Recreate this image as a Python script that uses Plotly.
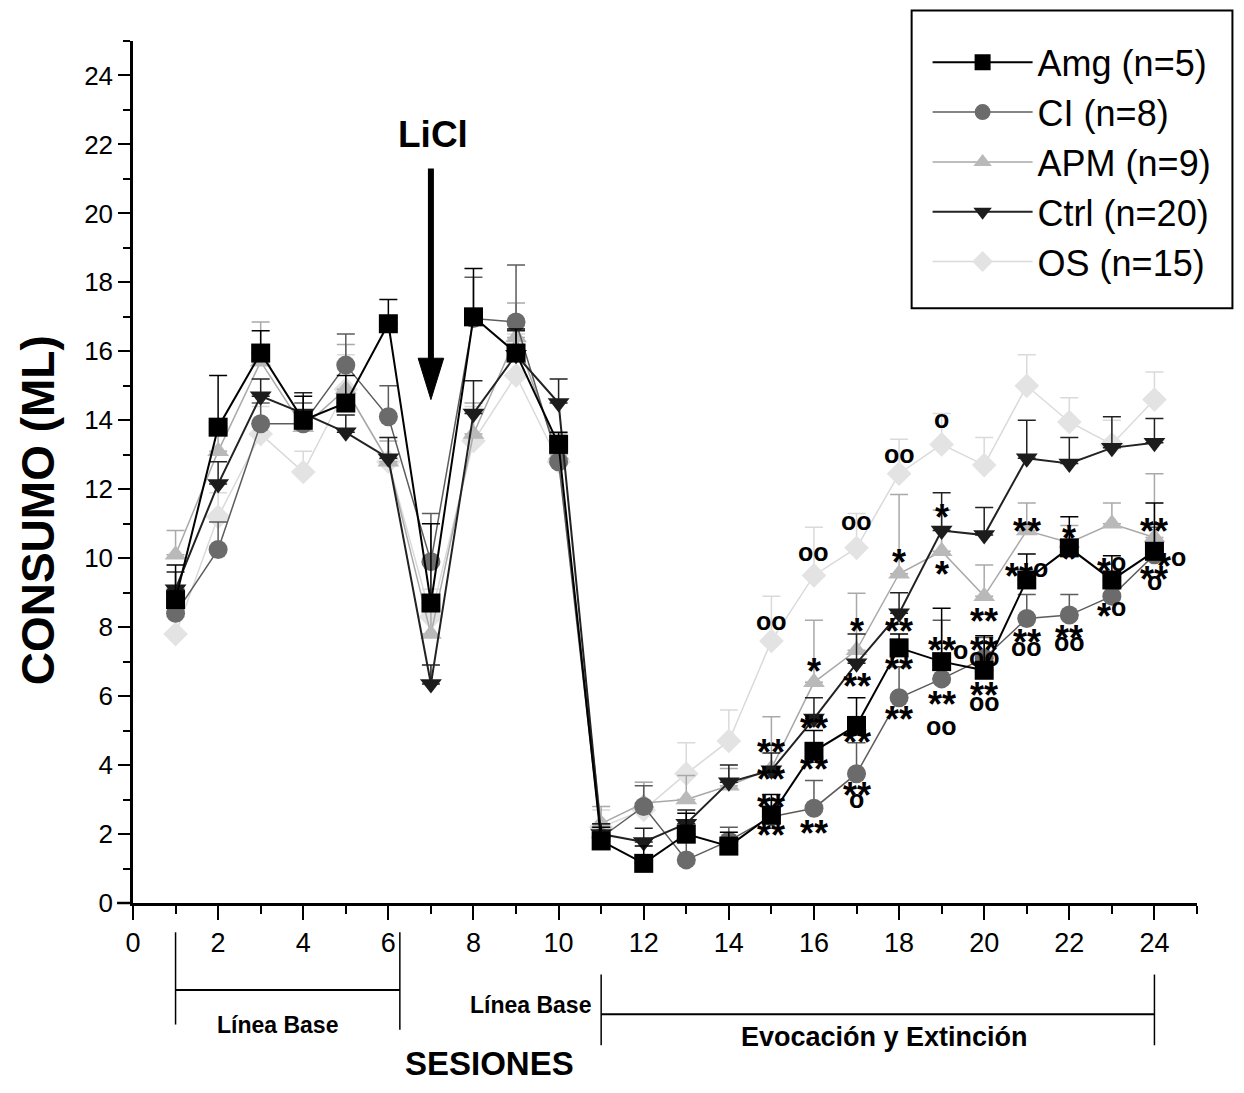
import plotly.graph_objects as go

sessions = list(range(1, 25))

amg = [8.8, 13.8, 15.95, 14.0, 14.5, 16.8, 8.7, 17.0, 15.95, 13.3, 1.8, 1.15, 2.0, 1.65, 2.55, 4.4, 5.15, 7.4, 7.0, 6.75, 9.37, 10.3, 9.37, 10.2]
amg_err = [1.0, 1.5, 0.65, 0.7, 0.8, 0.7, 2.3, 1.4, 0.7, 0.35, 0.4, 0.5, 0.6, 0.4, 0.6, 0.6, 0.8, 0.4, 1.55, 1.0, 0.75, 0.9, 0.7, 1.4]

ci = [8.4, 10.25, 13.9, 13.9, 15.6, 14.1, 9.9, 16.95, 16.85, 12.8, 1.9, 2.8, 1.25, 1.8, 2.5, 2.75, 3.75, 5.95, 6.5, 7.1, 8.25, 8.35, 8.9, 10.1]
ci_err = [0.6, 0.8, 0.6, 0.6, 0.9, 0.9, 1.4, 1.2, 1.65, 0.5, 0.4, 0.6, 0.5, 0.4, 0.5, 0.8, 0.9, 0.9, 1.7, 0.6, 0.7, 0.6, 0.6, 0.8]

apm = [10.1, 13.1, 15.7, 13.8, 14.9, 12.8, 7.8, 13.6, 16.4, 13.0, 2.3, 2.9, 3.0, 3.4, 3.9, 6.4, 7.33, 9.55, 10.2, 8.9, 10.8, 10.45, 11.0, 10.6]
apm_err = [0.7, 0.6, 1.15, 0.5, 1.3, 0.6, 1.1, 0.9, 1.0, 0.6, 0.5, 0.6, 0.7, 0.5, 1.5, 1.8, 1.65, 2.3, 1.2, 0.9, 0.8, 0.5, 0.6, 1.85]

ctrl = [9.1, 12.15, 14.7, 14.2, 13.65, 12.9, 6.35, 14.2, 15.9, 14.5, 2.0, 1.77, 2.3, 3.5, 3.85, 5.35, 6.95, 8.4, 10.8, 10.67, 12.9, 12.75, 13.2, 13.35]
ctrl_err = [0.5, 0.65, 0.5, 0.6, 0.5, 0.6, 0.55, 0.95, 0.7, 0.7, 0.3, 0.4, 0.4, 0.5, 0.5, 0.6, 0.85, 0.6, 1.1, 0.8, 1.1, 0.75, 0.9, 0.7]

os_ = [7.8, 11.2, 13.6, 12.5, 14.9, 12.8, 8.3, 13.4, 15.3, 12.8, 2.2, 2.7, 3.75, 4.7, 7.6, 9.5, 10.3, 12.45, 13.3, 12.7, 15.0, 13.95, 13.3, 14.6]
os_err = [0.5, 0.7, 0.8, 0.6, 1.0, 0.7, 0.8, 1.0, 1.2, 0.6, 0.5, 0.8, 0.9, 0.9, 1.3, 1.4, 1.0, 1.0, 0.9, 0.8, 0.9, 0.7, 0.7, 0.8]

# significance marks: session, level, text
sig_x = [15, 15, 15, 15, 15,
         16, 16, 16, 16, 16,
         17, 17, 17, 17, 17, 17,
         18, 18, 18, 18, 18,
         19, 19, 19, 19, 19.45, 19, 19,
         20, 20, 20, 20, 20,
         21, 21, 21, 21,
         22, 22, 22, 22,
         23, 23,
         24, 24.4, 24, 24]
sig_y = [8.15, 4.6, 3.8, 3.0, 2.2,
         10.15, 6.95, 5.3, 4.1, 2.25,
         11.05, 8.1, 6.5, 4.9, 3.35, 3.0,
         13.0, 10.1, 8.1, 7.0, 5.55,
         14.0, 11.4, 9.75, 7.55, 7.3, 6.0, 5.1,
         8.4, 7.55, 7.1, 6.25, 5.8,
         11.0, 9.7, 7.8, 7.4,
         10.8, 10.2, 7.9, 7.55,
         9.85, 8.55,
         11.0, 10.0, 9.6, 9.3]
sig_text = ["oo", "**", "**", "**", "**",
            "oo", "*", "**", "**", "**",
            "oo", "*", "**", "**", "**", "o",
            "oo", "*", "**", "**", "**",
            "o", "*", "*", "**", "o", "**", "oo",
            "**", "**", "oo", "**", "oo",
            "**", "**o", "**", "oo",
            "*", "*", "**", "oo",
            "*o", "*o",
            "**", "*o", "**", "o"]

y_ticks = list(range(0, 25, 2))
x_ticks = list(range(0, 25, 2))

fig = go.Figure()

series = [
    ("OS (n=15)", os_, os_err, "diamond", "#e3e3e3", "#dadada", 1.5, 5),
    ("APM (n=9)", apm, apm_err, "triangle-up", "#b9b9b9", "#a9a9a9", 1.5, 3),
    ("CI (n=8)", ci, ci_err, "circle", "#6b6b6b", "#5c5c5c", 1.5, 2),
    ("Ctrl (n=20)", ctrl, ctrl_err, "triangle-down", "#1c1c1c", "#222222", 2, 4),
    ("Amg (n=5)", amg, amg_err, "square", "#000000", "#000000", 2, 1),
]
for name, vals, errs, sym, mcol, lcol, lw, rank in series:
    fig.add_trace(go.Scatter(
        x=sessions, y=vals, name=name, mode="lines+markers",
        line=dict(color=lcol, width=lw),
        marker=dict(symbol=sym, size=19, color=mcol, line=dict(width=0)),
        error_y=dict(type="data", symmetric=False, array=errs,
                     arrayminus=[0] * len(errs), color=lcol, thickness=1.5, width=9),
        legendrank=rank,
    ))

FONT = "Liberation Sans, Arial, sans-serif"
STAR_SIZE = 36
O_SIZE = 25
STAR_W = 14
O_W = 15

annotations = []
for sx, sy, st in zip(sig_x, sig_y, sig_text):
    stars = st.count("*")
    circles = st.count("o")
    sw = stars * STAR_W
    ow = circles * O_W
    if stars:
        annotations.append(dict(
            x=sx, y=sy, xref="x", yref="y", text="<b>" + "*" * stars + "</b>", showarrow=False,
            xanchor="center", yanchor="middle",
            xshift=-ow / 2 if circles else 0, yshift=-8,
            font=dict(family=FONT, size=STAR_SIZE, color="black")))
    if circles:
        annotations.append(dict(
            x=sx, y=sy, xref="x", yref="y", text="<b>" + "o" * circles + "</b>", showarrow=False,
            xanchor="center", yanchor="middle",
            xshift=sw / 2 if stars else 0, yshift=1,
            font=dict(family=FONT, size=O_SIZE, color="black")))

annotations += [
    dict(x=7.05, y=22.3, xref="x", yref="y", text="<b>LiCl</b>", showarrow=False,
         xanchor="center", yanchor="middle",
         font=dict(family=FONT, size=37, color="black")),
    dict(x=-0.0892, y=0.4557, xref="paper", yref="paper", text="<b>CONSUMO (ML)</b>", showarrow=False,
         textangle=-90, xanchor="center", yanchor="middle",
         font=dict(family=FONT, size=46, color="black")),
    dict(x=3.4, y=-0.1415, xref="x", yref="paper", text="<b>Línea Base</b>", showarrow=False,
         xanchor="center", yanchor="middle", font=dict(family=FONT, size=23, color="black")),
    dict(x=10.8, y=-0.118, xref="x", yref="paper", text="<b>Línea Base</b>", showarrow=False,
         xanchor="right", yanchor="middle", font=dict(family=FONT, size=23, color="black")),
    dict(x=17.66, y=-0.1554, xref="x", yref="paper", text="<b>Evocación y Extinción</b>", showarrow=False,
         xanchor="center", yanchor="middle", font=dict(family=FONT, size=27, color="black")),
    dict(x=8.38, y=-0.1867, xref="x", yref="paper", text="<b>SESIONES</b>", showarrow=False,
         xanchor="center", yanchor="middle", borderpad=0,
         font=dict(family=FONT, size=33, color="black")),
]

shapes = [
    # LiCl arrow
    dict(type="line", xref="x", yref="y", x0=7, x1=7, y0=21.3, y1=15.7,
         line=dict(color="black", width=6)),
    dict(type="path", xref="x", yref="y", path="M 6.7,15.8 L 7.3,15.8 L 7,14.6 Z",
         fillcolor="black", line=dict(color="black", width=1)),
    # bracket 1
    dict(type="line", xref="x", yref="paper", x0=1, x1=1, y0=-0.034, y1=-0.141, line=dict(color="black", width=1.5)),
    dict(type="line", xref="x", yref="paper", x0=6.27, x1=6.27, y0=-0.034, y1=-0.147, line=dict(color="black", width=1.5)),
    dict(type="line", xref="x", yref="paper", x0=1, x1=6.27, y0=-0.101, y1=-0.101, line=dict(color="black", width=2)),
    # bracket 2
    dict(type="line", xref="x", yref="paper", x0=11, x1=11, y0=-0.083, y1=-0.165, line=dict(color="black", width=1.5)),
    dict(type="line", xref="x", yref="paper", x0=24, x1=24, y0=-0.083, y1=-0.165, line=dict(color="black", width=1.5)),
    dict(type="line", xref="x", yref="paper", x0=11, x1=24, y0=-0.129, y1=-0.129, line=dict(color="black", width=2)),
    # x axis line extension left of y axis
    dict(type="line", xref="paper", yref="paper", x0=-0.015, x1=0, y0=0, y1=0, line=dict(color="black", width=2.5)),
    # legend frame
    dict(type="rect", xref="paper", yref="paper", x0=0.7318, x1=1.0333, y0=0.6899, y1=1.0354,
         line=dict(color="black", width=2), fillcolor="rgba(0,0,0,0)", layer="above"),
]

fig.update_layout(
    width=1228, height=1077,
    margin=dict(l=125, r=38.5, t=32.5, b=182),
    paper_bgcolor="white", plot_bgcolor="white",
    annotations=annotations, shapes=shapes,
    showlegend=True,
    legend=dict(x=0.7468, y=1.010, xanchor="left", yanchor="top",
                bgcolor="rgba(255,255,255,0)", borderwidth=0,
                font=dict(family=FONT, size=36, color="black"),
                itemwidth=100, tracegroupgap=0),
    xaxis=dict(range=[0, 25], tickvals=x_ticks, ticktext=[str(t) for t in x_ticks],
               ticks="outside", ticklen=14, tickwidth=2, tickcolor="black",
               minor=dict(dtick=1, tick0=0, ticks="outside", ticklen=8, tickwidth=2, tickcolor="black"),
               showline=True, linewidth=2.5, linecolor="black", showgrid=False, zeroline=False,
               tickfont=dict(family=FONT, size=27, color="black")),
    yaxis=dict(range=[0, 25], tickvals=y_ticks, ticktext=[str(t) for t in y_ticks],
               ticks="outside", ticklen=12, tickwidth=2, tickcolor="black",
               minor=dict(dtick=1, tick0=0, ticks="outside", ticklen=7, tickwidth=2, tickcolor="black"),
               showline=True, linewidth=2.5, linecolor="black", showgrid=False, zeroline=False,
               tickfont=dict(family=FONT, size=26, color="black")),
)

fig.write_html("out.html")
